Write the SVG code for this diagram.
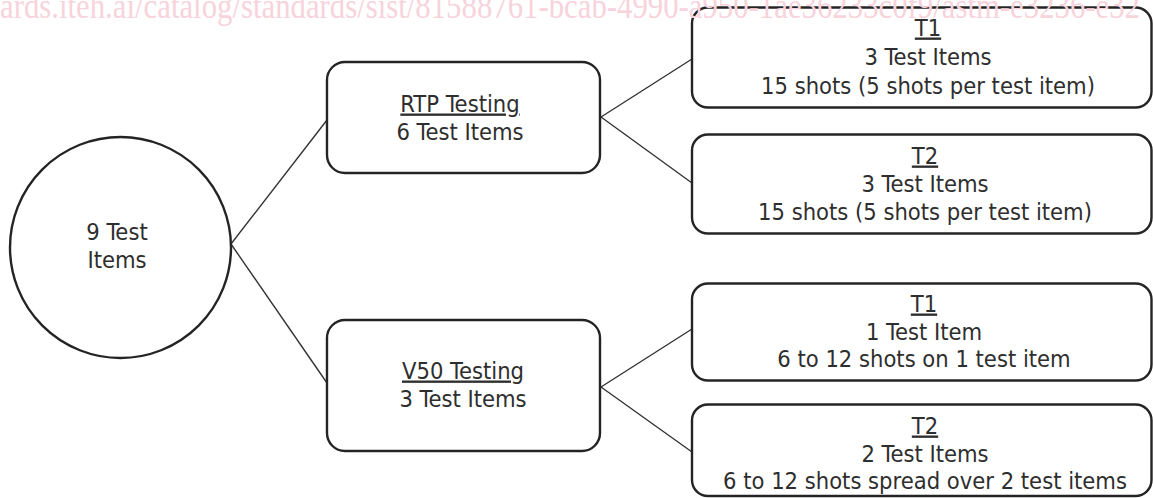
<svg xmlns="http://www.w3.org/2000/svg" width="1153" height="498" viewBox="0 0 1153 498">
<style>
.wm{font-family:"Liberation Serif","Times New Roman",serif;fill:#f7d3dc;font-size:35px}
.box{fill:#fff;stroke:#242424;stroke-width:2.4}
.t{font-family:"DejaVu Sans Condensed","DejaVu Sans",sans-serif;font-stretch:condensed;font-size:23.5px;fill:#2e2e2e;text-anchor:middle}
.u{text-decoration:underline}
.c{stroke:#333;stroke-width:1.4;fill:none}
</style>
<rect width="1153" height="498" fill="#fff"/>
<g id="connectors">
<line class="c" x1="231" y1="244" x2="327" y2="120"/>
<line class="c" x1="231" y1="244" x2="327" y2="383"/>
<line class="c" x1="601" y1="117" x2="692" y2="59"/>
<line class="c" x1="601" y1="117" x2="692" y2="183"/>
<line class="c" x1="601" y1="387" x2="692" y2="329"/>
<line class="c" x1="601" y1="387" x2="692" y2="452"/>
</g>
<g id="root">
<circle class="box" cx="120.5" cy="247.5" r="110.5"/>
<text class="t" x="117" y="239.5">9 Test</text>
<text class="t" x="117" y="268">Items</text>
</g>
<g id="rtp">
<rect class="box" x="327" y="62" width="273" height="111" rx="18"/>
<text class="t u" x="460" y="111.5">RTP Testing</text>
<text class="t" x="460" y="140">6 Test Items</text>
</g>
<g id="v50">
<rect class="box" x="327" y="320" width="273" height="131" rx="18"/>
<text class="t u" x="463" y="378.5">V50 Testing</text>
<text class="t" x="463" y="407">3 Test Items</text>
</g>
<g id="rtp-t1">
<rect class="box" x="692" y="7.5" width="459.5" height="100" rx="16"/>
<text class="t u" x="928" y="35.5">T1</text>
<text class="t" x="928" y="65">3 Test Items</text>
<text class="t" x="928" y="93.5">15 shots (5 shots per test item)</text>
</g>
<g id="rtp-t2">
<rect class="box" x="692" y="134.5" width="459.5" height="99" rx="16"/>
<text class="t u" x="925" y="163.5">T2</text>
<text class="t" x="925" y="192">3 Test Items</text>
<text class="t" x="925" y="220">15 shots (5 shots per test item)</text>
</g>
<g id="v50-t1">
<rect class="box" x="692" y="283.5" width="459.5" height="97" rx="16"/>
<text class="t u" x="924" y="311.5">T1</text>
<text class="t" x="924" y="340">1 Test Item</text>
<text class="t" x="924" y="367">6 to 12 shots on 1 test item</text>
</g>
<g id="v50-t2">
<rect class="box" x="692" y="404.5" width="459.5" height="91.5" rx="16"/>
<text class="t u" x="925" y="433.5">T2</text>
<text class="t" x="925" y="462">2 Test Items</text>
<text class="t" x="925" y="488.5">6 to 12 shots spread over 2 test items</text>
</g>
<text class="wm" x="0" y="18" textLength="1140" lengthAdjust="spacingAndGlyphs">ards.iteh.ai/catalog/standards/sist/81588761-bcab-4990-a950-1ae36233c0f9/astm-e3236-e32</text>
</svg>
